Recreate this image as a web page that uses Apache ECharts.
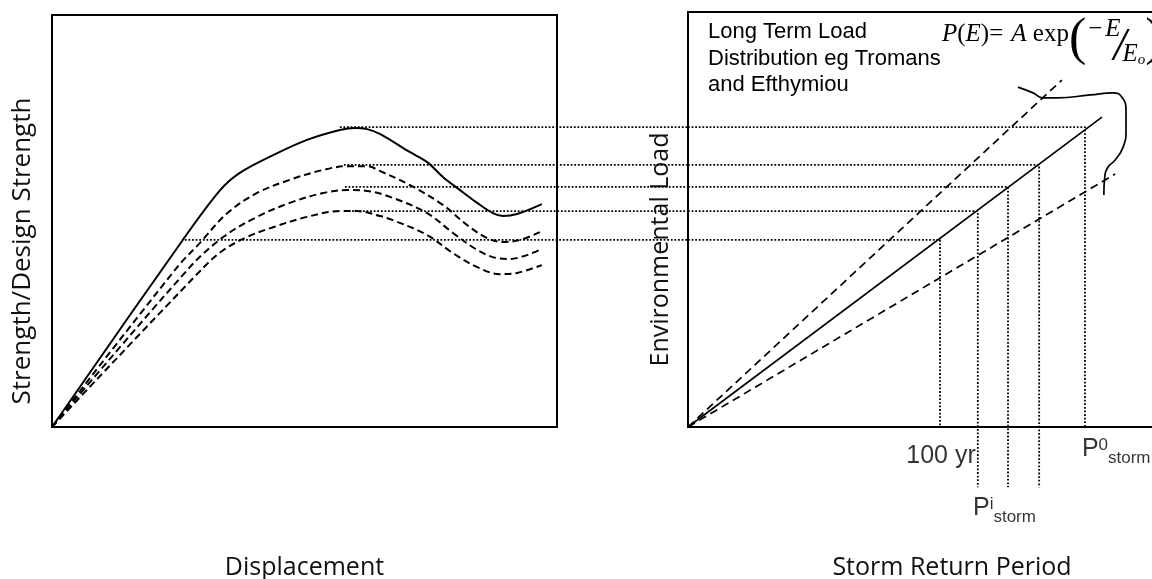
<!DOCTYPE html>
<html>
<head>
<meta charset="utf-8">
<script src="https://cdn.jsdelivr.net/npm/echarts@6/dist/echarts.min.js"></script>
<style>
  html, body { margin: 0; padding: 0; background: #fff; }
  #main { width: 1152px; height: 579px; }
</style>
</head>
<body>
<div id="main"></div>
<script>
// ---- Left panel: strength against displacement (both axes 0-100) ----
const intactCurve = [[0,0],[25.9,45.4],[33.3,57.5],[37.2,61.7],[43.8,66.0],[50.5,69.7],[57.0,72.1],[60.0,72.6],[62.4,72.3],[65.0,71.1],[70.9,66.7],[74.3,64.3],[77.4,60.7],[80.8,57.5],[84.2,54.4],[87.3,51.9],[89.3,51.2],[92.1,51.7],[97.0,54.1]];
const damagedCurve1 = [[0,0],[24.8,38.8],[29.3,44.7],[34.7,51.9],[40.6,56.8],[47.1,60.0],[53.7,62.4],[58.4,63.3],[62.4,63.3],[65.0,62.1],[70.9,58.7],[77.4,53.9],[82.2,49.0],[86.1,45.9],[89.3,44.9],[92.7,45.4],[96.6,47.3]];
const damagedCurve2 = [[0,0],[27.3,38.8],[33.9,46.1],[40.6,51.0],[47.1,54.4],[53.7,56.8],[58.4,57.5],[62.4,57.3],[67.5,55.6],[74.3,51.9],[79.4,47.1],[84.2,43.0],[88.1,41.0],[90.7,40.8],[96.6,43.0]];
const damagedCurve3 = [[0,0],[29.9,38.6],[33.9,42.9],[38.6,46.1],[43.8,48.5],[50.5,51.0],[57.0,52.4],[60.4,52.4],[65.0,51.2],[67.5,50.2],[74.3,46.6],[79.4,42.2],[84.2,38.8],[88.7,37.1],[92.1,37.4],[97.0,39.3]];

// Strength levels carried across to the load panel, and where each starts on the left
const strengthLevels = [45.4, 52.4, 58.3, 63.6, 72.8];
const levelStartX    = [26.3, 58.0, 58.0, 57.8, 57.0];

// ---- Right panel: environmental load against storm return period ----
const meanLoad  = [[0,0],[87.7,75.2]];
const upperLoad = [[0,0],[79.2,84.2]];
const lowerLoad = [[0,0],[90.5,61.4]];
const spreadBracket = [[69.9,82.5],[73.1,81.1],[75.2,79.9],[78.2,79.9],[85.2,80.6],[90.0,81.1],[91.9,80.1],[92.8,76.9],[92.8,72.1],[92.2,68.0],[90.5,64.8],[89.0,63.1],[88.3,60.7],[88.1,56.3]];
const returnPeriods = [53.4, 61.4, 67.8, 74.4, 84.1];
const periodDropTo  = [0, -14.6, -14.6, -14.6, 0];

// Tick-style labels under the period axis
const periodLabels = ['100 yr', '{P|P}{sup|i}{sub|storm}', '{P|P}{sup|0}{sub|storm}'];
const periodLabelIndex = [0, 2, 4];

// Text
const leftXName = 'Displacement';
const leftYName = 'Strength/Design Strength';
const rightXName = 'Storm Return Period';
const rightYName = 'Environmental Load';
const noteLines = ['Long Term Load', 'Distribution eg Tromans', 'and Efthymiou'];

const SANS = 'Open Sans';
const ARIAL = 'Liberation Sans';
const SERIF = 'Liberation Serif';

const DOT_DASH = [1.8, 1.8];
const DOT_WIDTH = 1.8;
const dotted = { color: '#000', width: DOT_WIDTH, type: DOT_DASH };

function hiddenAxis(extra) {
  return Object.assign({
    type: 'value',
    axisLine: { show: false }, axisTick: { show: false },
    axisLabel: { show: false }, splitLine: { show: false }
  }, extra);
}

function curve(data, axisIdx, style, smooth) {
  return {
    type: 'line', xAxisIndex: axisIdx, yAxisIndex: axisIdx,
    data: data, showSymbol: false, symbol: 'none',
    smooth: smooth, clip: false, silent: true,
    lineStyle: style
  };
}

const series = [
  curve(intactCurve, 0, { color: '#000', width: 2 }, 0.35),
  curve(damagedCurve1, 0, { color: '#000', width: 2, type: [7, 4] }, 0.35),
  curve(damagedCurve2, 0, { color: '#000', width: 2, type: [7, 4] }, 0.35),
  curve(damagedCurve3, 0, { color: '#000', width: 2, type: [7, 4] }, 0.35),
  curve(meanLoad, 1, { color: '#000', width: 1.7 }, false),
  curve(upperLoad, 1, { color: '#000', width: 1.7, type: [8, 5] }, false),
  curve(lowerLoad, 1, { color: '#000', width: 1.7, type: [8, 5] }, false),
  curve(spreadBracket, 1, { color: '#000', width: 1.7 }, 0.5)
];

// Level lines inside the load panel: across to the mean line, then down to the period
strengthLevels.forEach(function (lvl, i) {
  series.push(curve([[0, lvl], [returnPeriods[i], lvl], [returnPeriods[i], periodDropTo[i]]], 1, dotted, false));
});

const periodRich = {
  P:   { fontFamily: ARIAL, fontSize: 25, lineHeight: 30, verticalAlign: 'top', color: '#000' },
  sup: { fontFamily: ARIAL, fontSize: 17, lineHeight: 17, verticalAlign: 'top', color: '#000' },
  sub: { fontFamily: ARIAL, fontSize: 17, lineHeight: 17, verticalAlign: 'bottom', color: '#000' }
};
const labelPlacement = [
  { align: 'center', verticalAlign: 'middle', offset: [1, 29] },
  { align: 'left', verticalAlign: 'top', offset: [-35, 69] },
  { align: 'left', verticalAlign: 'top', offset: [-3, 10] }
];
series.push({
  type: 'scatter', xAxisIndex: 1, yAxisIndex: 1, clip: false, silent: true,
  symbolSize: 0.1, itemStyle: { color: 'rgba(0,0,0,0)' },
  data: periodLabels.map(function (txt, k) {
    return {
      value: [returnPeriods[periodLabelIndex[k]], 0],
      label: Object.assign({
        show: true, position: [0, 0], formatter: txt,
        fontFamily: ARIAL, fontSize: 25, color: '#000', rich: periodRich
      }, labelPlacement[k])
    };
  })
});

const nameStyle = { fontFamily: SANS, fontSize: 25, color: '#111' };

const option = {
  animation: false,
  backgroundColor: '#fff',
  grid: [
    { left: 52, top: 15, width: 505, height: 412, outerBoundsMode: 'none', containLabel: false,
      show: true, borderColor: '#000', borderWidth: 2, backgroundColor: 'transparent' },
    { left: 688, top: 12, width: 472, height: 415, outerBoundsMode: 'none', containLabel: false,
      show: true, borderColor: '#000', borderWidth: 2, backgroundColor: 'transparent' }
  ],
  xAxis: [
    hiddenAxis({ gridIndex: 0, min: 0, max: 100, name: leftXName, nameLocation: 'middle', nameGap: 128, nameTextStyle: nameStyle }),
    hiddenAxis({ gridIndex: 1, min: 0, max: 100, name: rightXName, nameLocation: 'middle', nameGap: 128,
      nameTextStyle: Object.assign({ padding: [0, 0, 0, 56] }, nameStyle) })
  ],
  yAxis: [
    hiddenAxis({ gridIndex: 0, min: 0, max: 100, name: leftYName, nameLocation: 'middle', nameGap: 16, nameRotate: 90,
      nameTextStyle: Object.assign({ padding: [0, 60, 0, 0] }, nameStyle, { fontSize: 26 }) }),
    hiddenAxis({ gridIndex: 1, min: 0, max: 100.73, name: rightYName, nameLocation: 'middle', nameGap: 15, nameRotate: 90,
      nameTextStyle: Object.assign({ padding: [0, 60, 0, 0] }, nameStyle) })
  ],
  graphic: [
    {
      type: 'text', x: 708, y: 19, silent: true,
      style: { text: noteLines.join('\n'), fontFamily: ARIAL, fontSize: 22, lineHeight: 26.5, fill: '#000', align: 'left', verticalAlign: 'top' }
    },
    {
      type: 'text', x: 942, y: 8, silent: true,
      style: {
        text: '{it|P}{rm|(}{it|E}{rm|)=}{ita|A}{rm| exp}{par|(}{nrm|−}{num|E}{sl|/}{den|E}{sub|o}{par|)}',
        align: 'left', verticalAlign: 'top', fill: '#000',
        rich: {
          it:  { fontFamily: SERIF, fontStyle: 'italic', fontSize: 25, lineHeight: 50, verticalAlign: 'top', padding: [14, 0, 0, 0] },
          ita: { fontFamily: SERIF, fontStyle: 'italic', fontSize: 25, lineHeight: 50, verticalAlign: 'top', padding: [14, 0, 0, 8] },
          rm:  { fontFamily: SERIF, fontSize: 25, lineHeight: 50, verticalAlign: 'top', padding: [14, 0, 0, 0] },
          par: { fontFamily: SERIF, fontSize: 52, lineHeight: 64, verticalAlign: 'middle' },
          nrm: { fontFamily: SERIF, fontSize: 25, lineHeight: 40, verticalAlign: 'top', padding: [9, 0, 0, 2] },
          num: { fontFamily: SERIF, fontStyle: 'italic', fontSize: 25, lineHeight: 40, verticalAlign: 'top', padding: [9, 0, 0, 3] },
          sl:  { fontFamily: SERIF, fontStyle: 'italic', fontSize: 46, lineHeight: 54, verticalAlign: 'bottom', padding: [0, 0, 1, -7] },
          den: { fontFamily: SERIF, fontStyle: 'italic', fontSize: 25, lineHeight: 36, verticalAlign: 'bottom', padding: [0, 0, 5, -4] },
          sub: { fontFamily: SERIF, fontStyle: 'italic', fontSize: 15, lineHeight: 22, verticalAlign: 'bottom', padding: [0, 0, 4, 0] }
        }
      }
    }
  ],
  series: series
};

const chart = echarts.init(document.getElementById('main'), null, { renderer: 'canvas' });
chart.setOption(option);

// The strength levels run out of the left panel up to the load panel's left edge.
// Map that edge into left-panel units from two known points on the left x axis.
const joinPx = chart.convertToPixel({ gridIndex: 1 }, [0, 0])[0];
const leftPx0 = chart.convertToPixel({ gridIndex: 0 }, [0, 0])[0];
const leftPx100 = chart.convertToPixel({ gridIndex: 0 }, [100, 0])[0];
const joinX = (joinPx - leftPx0) / (leftPx100 - leftPx0) * 100;

// Drawn as a custom series so the segments may run past the left panel's border
series.push({
  type: 'custom', xAxisIndex: 0, yAxisIndex: 0, clip: false, silent: true,
  data: strengthLevels.map(function (lvl, i) { return [levelStartX[i], lvl, joinX]; }),
  encode: { x: [0, 2], y: 1 },
  renderItem: function (params, api) {
    const a = api.coord([api.value(0), api.value(1)]);
    const b = api.coord([api.value(2), api.value(1)]);
    return {
      type: 'polyline',
      shape: { points: [a, b] },
      style: { stroke: '#000', lineWidth: DOT_WIDTH, lineDash: DOT_DASH, fill: null }
    };
  }
});
chart.setOption({ series: series });
</script>
</body>
</html>
